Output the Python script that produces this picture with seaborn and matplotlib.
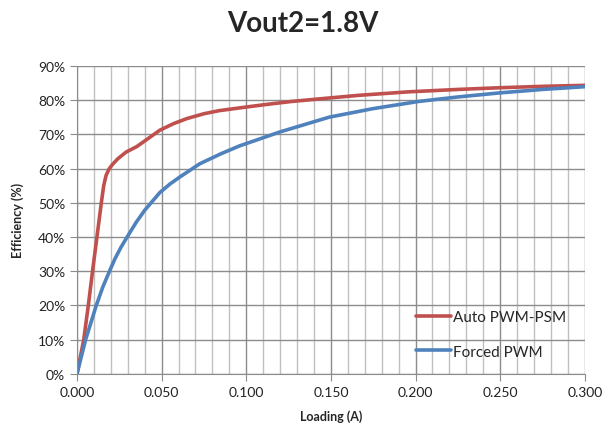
import pandas as pd
import seaborn as sns
import matplotlib.pyplot as plt
from matplotlib.ticker import MultipleLocator, FuncFormatter

# values
auto_x = [0.0, 0.004, 0.0067, 0.0092, 0.0118, 0.0144, 0.0158, 0.0172, 0.019, 0.021,
          0.024, 0.029, 0.0353, 0.043, 0.049, 0.057, 0.065, 0.075, 0.084, 0.096,
          0.11, 0.127, 0.149, 0.167, 0.196, 0.225, 0.25, 0.275, 0.3]
auto_eff = [0.0, 10.0, 20.0, 30.0, 40.0, 50.0, 55.0, 58.0, 59.9, 61.2,
            62.8, 64.8, 66.4, 69.1, 71.2, 73.1, 74.6, 76.0, 76.9, 77.7,
            78.6, 79.6, 80.6, 81.4, 82.4, 83.1, 83.6, 84.0, 84.3]

forced_x = [0.0, 0.0051, 0.0114, 0.0152, 0.0192, 0.0225, 0.026, 0.03, 0.035, 0.04,
            0.049, 0.055, 0.061, 0.0726, 0.085, 0.096, 0.12, 0.149, 0.175, 0.202,
            0.225, 0.25, 0.275, 0.3]
forced_eff = [0.0, 10.0, 20.0, 25.3, 30.0, 33.7, 37.0, 40.3, 44.3, 47.8,
              53.0, 55.5, 57.6, 61.4, 64.3, 66.6, 70.7, 75.0, 77.5, 79.6,
              80.9, 82.1, 83.1, 83.9]

series_names = ['Auto PWM-PSM', 'Forced PWM']
series_colors = ['#C0504D', '#4F81BD']

df = pd.concat([
    pd.DataFrame({'Loading': auto_x, 'Efficiency': auto_eff, 'Mode': series_names[0]}),
    pd.DataFrame({'Loading': forced_x, 'Efficiency': forced_eff, 'Mode': series_names[1]}),
])

sns.set_style('white')
plt.rcParams['font.family'] = ['Lato', 'DejaVu Sans']

fig, ax = plt.subplots(figsize=(6.06, 4.31), dpi=100)
fig.subplots_adjust(left=0.127, right=0.965, top=0.845, bottom=0.130)

sns.lineplot(data=df, x='Loading', y='Efficiency', hue='Mode', sort=False,
             palette=series_colors, linewidth=2.6, ax=ax)
for line in ax.lines:
    line.set_solid_joinstyle('round')
    line.set_solid_capstyle('round')

ax.set_xlim(0, 0.3)
ax.set_ylim(0, 90)
ax.xaxis.set_major_locator(MultipleLocator(0.05))
ax.xaxis.set_minor_locator(MultipleLocator(0.01))
ax.yaxis.set_major_locator(MultipleLocator(10))
ax.xaxis.set_major_formatter(FuncFormatter(lambda v, p: f'{v:.3f}'))
ax.yaxis.set_major_formatter(FuncFormatter(lambda v, p: f'{v:.0f}%'))

ax.grid(which='major', color='#8c8c8c', linewidth=1.0)
ax.grid(which='minor', axis='x', color='#c0c0c0', linewidth=1.0)
ax.set_axisbelow(True)
for side in ['top', 'right']:
    ax.spines[side].set_visible(False)
for side in ['left', 'bottom']:
    ax.spines[side].set_color('#8c8c8c')

ax.tick_params(axis='both', which='major', direction='out', length=5, color='#8c8c8c',
               labelsize=10, labelcolor='#222222', left=True, bottom=True)
ax.tick_params(axis='x', which='minor', length=0)

ax.set_xlabel('Loading (A)', fontsize=9, fontweight='bold', labelpad=8)
ax.set_ylabel('Efficiency (%)', fontsize=9, fontweight='bold', labelpad=10)

fig.suptitle('Vout2=1.8V', x=0.5, y=0.975, fontsize=20, fontweight='bold')

leg = ax.legend(loc='lower right', bbox_to_anchor=(0.99, 0.005), frameon=False,
                fontsize=11, handlelength=2.3, handletextpad=0.1, labelspacing=1.35,
                title=None)

fig.savefig('out.png', dpi=100)
